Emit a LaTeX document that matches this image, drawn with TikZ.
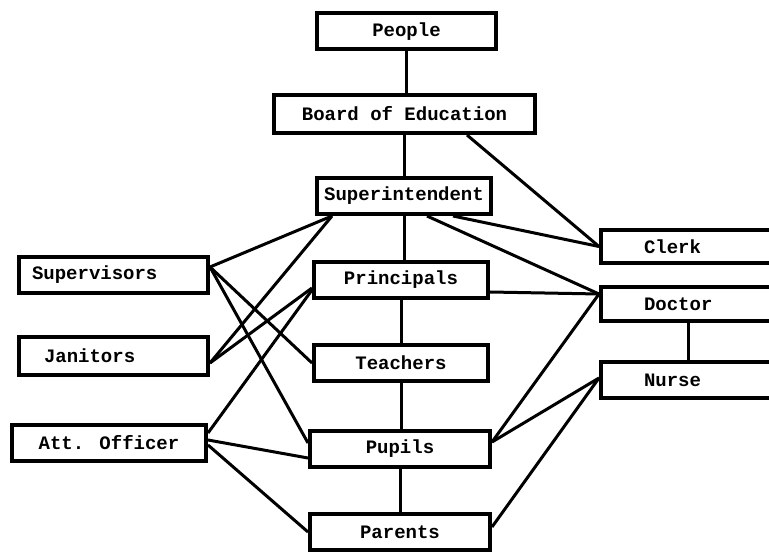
\documentclass[tikz,border=0pt]{standalone}
\usepackage{fontspec}
\setmainfont{Liberation Mono}
\usepackage{tikz}

\begin{document}
\begin{tikzpicture}[x=1pt, y=-1pt,
    unit/.style={draw, line width=4pt, inner sep=0pt, minimum height=36,
      font=\bfseries\fontsize{19}{20}\selectfont},
    link/.style={line width=3pt}]
  \useasboundingbox (0,0) rectangle (769,553);
  \clip (0,0) rectangle (769,553);

  % centre column
  \node [unit, minimum width=179] (people) at (406.5,31.5) {People};
  \node [unit, minimum width=261, minimum height=38] (board) at (404.5,114) {Board of Education};
  \node [unit, minimum width=174] (super) at (404,196) {Superintendent};
  \node [unit, minimum width=174] (princ) at (401,280) {Principals};
  \node [unit, minimum width=174] (teach) at (401,363) {Teachers};
  \node [unit, minimum width=180] (pupils) at (400,449) {Pupils};
  \node [unit, minimum width=180] (parents) at (400,532) {Parents};

  % left column
  \node [unit, anchor=west, text width=163, inner xsep=13, align=left] (superv) at (17,275) {Supervisors};
  \node [unit, anchor=west, text width=139, inner xsep=25, align=left, minimum height=38] (janit) at (17,356) {Janitors};
  \node [unit, minimum width=194] (attoff) at (109,443) {Att. Officer};

  % right column
  \node [unit, anchor=west, text width=107, inner xsep=43, align=left, minimum height=33] (clerk) at (599,246.5) {Clerk};
  \node [unit, anchor=west, text width=107, inner xsep=43, align=left, minimum height=34] (doctor) at (599,304) {Doctor};
  \node [unit, anchor=west, text width=107, inner xsep=43, align=left] (nurse) at (599,380) {Nurse};

  % vertical lines
  \draw [link] (people.south) -- (people.south |- board.north);
  \draw [link] (board.south) -- (board.south |- super.north);
  \draw [link] (super.south) -- (super.south |- princ.north);
  \draw [link] (princ.south) -- (princ.south |- teach.north);
  \draw [link] (teach.south) -- (teach.south |- pupils.north);
  \draw [link] (pupils.south) -- (pupils.south |- parents.north);
  \draw [link] ([xshift=89]doctor.south west) -- ([xshift=89]nurse.north west);

  % right side
  \draw [link] ([xshift=-70]board.south east) -- (clerk.west);
  \draw [link] ([xshift=-40]super.south east) -- (clerk.west);
  \draw [link] ([xshift=23]super.south) -- ([yshift=10]doctor.west);
  \draw [link] ([yshift=-12]princ.east) -- ([yshift=10]doctor.west);
  \draw [link] ([yshift=7]pupils.east) -- ([yshift=10]doctor.west);
  \draw [link] ([yshift=7]pupils.east) -- ([yshift=2]nurse.west);
  \draw [link] ([yshift=5]parents.east) -- ([yshift=2]nurse.west);

  % left side
  \draw [link] ([yshift=8]superv.east) -- ([xshift=17]super.south west);
  \draw [link] ([yshift=-7]janit.east) -- ([xshift=17]super.south west);
  \draw [link] ([yshift=8]superv.east) -- (teach.west);
  \draw [link] ([yshift=8]superv.east) -- ([yshift=6]pupils.west);
  \draw [link] ([yshift=-7]janit.east) -- ([yshift=-8]princ.west);
  \draw [link] ([yshift=10]attoff.east) -- ([yshift=-10]princ.west);
  \draw [link] ([yshift=3]attoff.east) -- ([yshift=-9]pupils.west);
  \draw [link] ([yshift=-2]attoff.east) -- (parents.west);
\end{tikzpicture}
\end{document}
